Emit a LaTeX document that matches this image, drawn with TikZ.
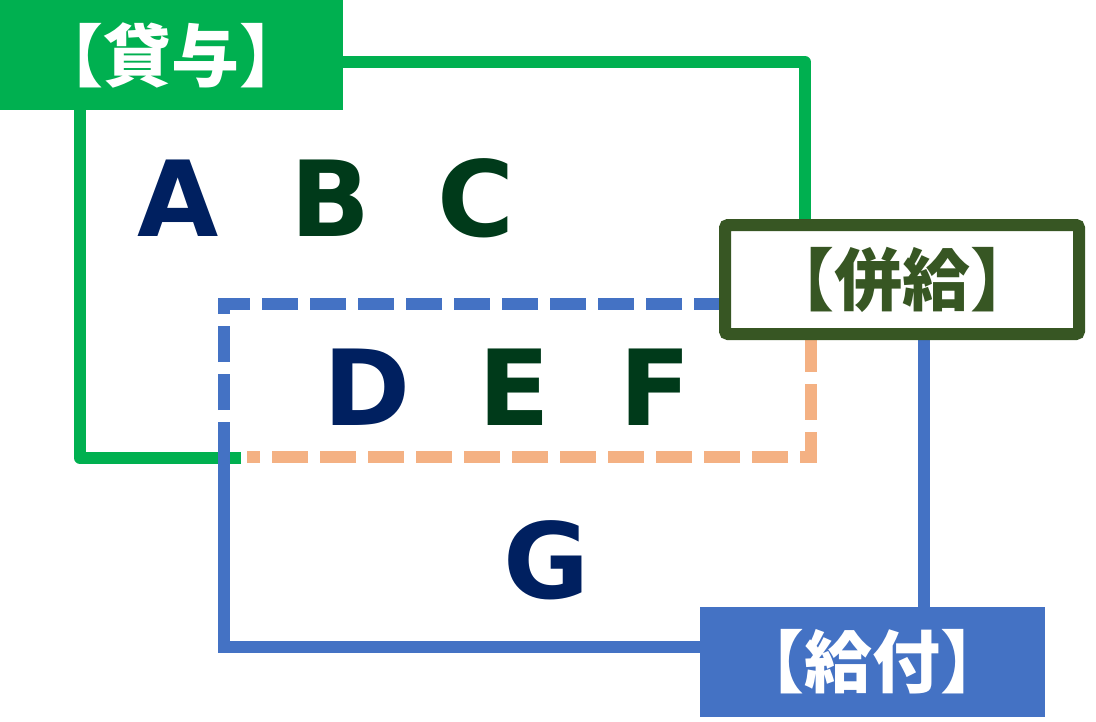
\documentclass[tikz,border=0pt]{standalone}
\usepackage{fontspec}
\setmainfont{DejaVu Sans}
\newfontfamily\cjk{Noto Sans CJK JP}
\definecolor{cgreen}{HTML}{00B050}
\definecolor{cblue}{HTML}{4472C4}
\definecolor{corange}{HTML}{F4B183}
\definecolor{cdkgreen}{HTML}{375623}
\definecolor{cnavy}{HTML}{002060}
\definecolor{cletgreen}{HTML}{003A1A}
\begin{document}
\begin{tikzpicture}[x=1pt,y=-1pt,
  greenline/.style={draw=cgreen,line width=12pt,line join=round},
  blueline/.style={draw=cblue,line width=12pt,line join=miter},
  bluedash/.style={blueline,dash pattern=on 36pt off 12pt},
  orangedash/.style={draw=corange,line width=12pt,dash pattern=on 36pt off 12pt},
  letter/.style={anchor=base,inner sep=0pt,font=\fontsize{105}{105}\selectfont\bfseries},
  lbl/.style={inner sep=0pt,font=\cjk\fontsize{68}{68}\selectfont\bfseries}]
\useasboundingbox (0,0) rectangle (1096,721);
% corners
\coordinate (gBL) at (80,458);
\coordinate (gTL) at (80,62);
\coordinate (gTR) at (805,62);
\coordinate (gR) at (805,235);
\coordinate (gB) at (241,458);
\coordinate (oR) at (811,336);
\coordinate (oBR) at (811,457);
\coordinate (oBL) at (247,457);
\coordinate (bL) at (224,458);
\coordinate (bTL) at (224,304);
\coordinate (bT) at (728,304);
\coordinate (bBL) at (224,647);
\coordinate (bBR) at (924,647);
\coordinate (bR) at (924,330);
% green outline
\draw[greenline] (gB) -- (gBL) -- (gTL) -- (gTR) -- (gR);
% orange dashed
\draw[orangedash] (oR) -- (oBR) -- (oBL);
% blue outline
\draw[bluedash] (bL) -- (bTL) -- (bT);
\draw[blueline] (bL) -- (bBL) -- (bBR) -- (bR);
% label boxes
\node[fill=cgreen,minimum width=343pt,minimum height=110pt,inner sep=0pt] (taiyo) at (171.5,55) {};
\node[lbl,text=white] (taiyot) at (taiyo.center) {【貸与】};
\node[fill=white,draw=cdkgreen,line width=12pt,rounded corners=3pt,minimum width=354pt,minimum height=109pt,inner sep=0pt] (heikyu) at (902,279.5) {};
\node[lbl,text=cdkgreen] (heikyut) at (heikyu.center) {【併給】};
\node[fill=cblue,minimum width=345pt,minimum height=110pt,inner sep=0pt] (kyufu) at (872.5,662) {};
\node[lbl,text=white] (kyufut) at (kyufu.center) {【給付】};
% letters
\node[letter,text=cnavy] (A) at (178.5,236) {A};
\node[letter,text=cletgreen] (B) at (330.5,236) {B};
\node[letter,text=cletgreen] (C) at (476,236) {C};
\node[letter,text=cnavy] (D) at (367.5,425) {D};
\node[letter,text=cletgreen] (E) at (514.5,425) {E};
\node[letter,text=cletgreen] (F) at (655.5,425) {F};
\node[letter,text=cnavy] (G) at (546.5,598) {G};
\end{tikzpicture}
\end{document}
